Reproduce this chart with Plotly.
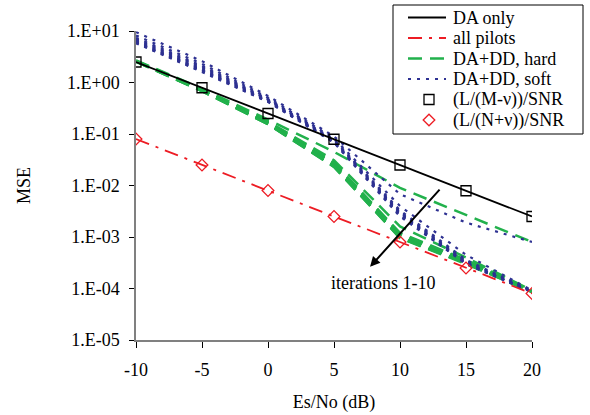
import plotly.graph_objects as go

snr_db = [-10, -5, 0, 5, 10, 15, 20]
x_ticktext = ["-10", "-5", "0", "5", "10", "15", "20"]

da_only = [2.5, 0.79, 0.25, 0.079, 0.025, 0.0079, 0.0025]
all_pilots = [0.08, 0.025, 0.008, 0.0025, 0.0008, 0.00025, 0.00008]
bound_m = [2.5, 0.79, 0.25, 0.079, 0.025, 0.0079, 0.0025]
bound_n = [0.08, 0.025, 0.008, 0.0025, 0.0008, 0.00025, 0.00008]

hard_iters = [
    [2.7, 0.76, 0.19, 0.045, 0.0090, 0.0027, 0.00080],
    [2.65, 0.73, 0.175, 0.031, 0.0016, 0.00040, 0.000092],
    [2.6, 0.72, 0.17, 0.028, 0.0012, 0.00036, 0.000090],
    [2.6, 0.71, 0.165, 0.027, 0.00115, 0.00035, 0.000089],
    [2.58, 0.70, 0.163, 0.026, 0.0011, 0.00034, 0.000088],
    [2.57, 0.70, 0.16, 0.025, 0.00105, 0.00033, 0.000087],
    [2.56, 0.69, 0.158, 0.024, 0.0010, 0.00032, 0.000086],
    [2.55, 0.69, 0.157, 0.024, 0.00098, 0.00031, 0.000086],
    [2.55, 0.68, 0.156, 0.023, 0.00096, 0.00031, 0.000085],
    [2.54, 0.68, 0.155, 0.023, 0.00095, 0.00030, 0.000085],
]

soft_iters = [
    [9.5, 2.6, 0.55, 0.090, 0.0068, 0.0019, 0.00080],
    [8.2, 2.3, 0.51, 0.082, 0.0040, 0.00045, 0.000092],
    [7.4, 2.1, 0.48, 0.078, 0.0033, 0.00036, 0.000090],
    [7.0, 2.0, 0.47, 0.076, 0.0031, 0.00034, 0.000089],
    [6.7, 1.9, 0.46, 0.074, 0.0030, 0.00033, 0.000088],
    [6.4, 1.8, 0.45, 0.072, 0.0029, 0.00032, 0.000087],
    [6.2, 1.75, 0.44, 0.071, 0.0028, 0.00031, 0.000086],
    [6.0, 1.7, 0.43, 0.070, 0.0027, 0.00031, 0.000086],
    [5.9, 1.65, 0.425, 0.069, 0.0026, 0.00030, 0.000085],
    [5.8, 1.6, 0.42, 0.068, 0.0025, 0.00030, 0.000085],
]

legend_labels = ["DA only", "all pilots", "DA+DD, hard", "DA+DD, soft",
                 "(L/(M-\u03bd))/SNR", "(L/(N+\u03bd))/SNR"]

y_tickvals = [1e-5, 1e-4, 1e-3, 1e-2, 1e-1, 1, 10]
y_ticktext = ["1.E-05", "1.E-04", "1.E-03", "1.E-02", "1.E-01", "1.E+00", "1.E+01"]

FONT = "Liberation Serif"
GREEN = "#22b14c"
BLUE = "#2e3192"
RED = "#ed1c24"

W, H = 590, 415
ML, MR, MT, MB = 136, 58, 31, 75
PW, PH = W - ML - MR, H - MT - MB


def px(xp):
    return (xp - ML) / PW


def py(yp):
    return (H - MB - yp) / PH


hard_style = dict(color=GREEN, width=2.5, dash="14px,8px")
soft_style = dict(color=BLUE, width=2.2, dash="3px,6px")
pilot_style = dict(color=RED, width=1.8, dash="14px,7px,3px,7px")
da_style = dict(color="black", width=1.8)

fig = go.Figure()

for ys in hard_iters:
    fig.add_trace(go.Scatter(x=snr_db, y=ys, mode="lines", name=legend_labels[2],
                             line=hard_style, showlegend=False))

for ys in soft_iters:
    fig.add_trace(go.Scatter(x=snr_db, y=ys, mode="lines", name=legend_labels[3],
                             line=soft_style, showlegend=False))

fig.add_trace(go.Scatter(x=snr_db, y=all_pilots, mode="lines", name=legend_labels[1],
                         line=pilot_style, showlegend=False))
fig.add_trace(go.Scatter(x=snr_db, y=da_only, mode="lines", name=legend_labels[0],
                         line=da_style, showlegend=False))
fig.add_trace(go.Scatter(
    x=snr_db, y=bound_m, mode="markers", name=legend_labels[4], showlegend=False,
    marker=dict(symbol="square-open", size=10, color="black", line=dict(width=1.3))))
fig.add_trace(go.Scatter(
    x=snr_db, y=bound_n, mode="markers", name=legend_labels[5], showlegend=False,
    marker=dict(symbol="diamond-open", size=9, color=RED, line=dict(width=1.3))))

# ---- hand-drawn legend box (paper coordinates) ----
fig.add_shape(type="rect", xref="paper", yref="paper",
              x0=px(393), x1=px(583), y0=py(134), y1=py(5),
              line=dict(color="black", width=1), fillcolor="white", layer="above")
row_y = [17.5, 38, 58.5, 79, 99.5, 120]
line_styles = [da_style, pilot_style, hard_style, soft_style]
for k, st in enumerate(line_styles):
    fig.add_shape(type="line", xref="paper", yref="paper",
                  x0=px(408), x1=px(446), y0=py(row_y[k]), y1=py(row_y[k]),
                  line=st, layer="above")
# square symbol
fig.add_shape(type="rect", xref="paper", yref="paper",
              x0=px(424), x1=px(434), y0=py(row_y[4] + 5), y1=py(row_y[4] - 5),
              line=dict(color="black", width=1.3), layer="above")
# diamond symbol
cx, cy, r = 429, row_y[5], 5.8
fig.add_shape(type="path", xref="paper", yref="paper",
              path=(f"M {px(cx - r)} {py(cy)} L {px(cx)} {py(cy - r)} "
                    f"L {px(cx + r)} {py(cy)} L {px(cx)} {py(cy + r)} Z"),
              line=dict(color=RED, width=1.3), layer="above")
for k, lab in enumerate(legend_labels):
    fig.add_annotation(x=px(451), y=py(row_y[k]), xref="paper", yref="paper",
                       text=lab, showarrow=False, xanchor="left", yanchor="middle",
                       font=dict(family=FONT, size=18, color="black"))

fig.add_annotation(
    x=7.73, y=-3.58, ax=13.1, ay=-2.05, xref="x", yref="y", axref="x", ayref="y",
    showarrow=True, arrowhead=2, arrowsize=1, arrowwidth=2, arrowcolor="black", text="")
fig.add_annotation(
    x=8.7, y=-3.89, xref="x", yref="y", text="iterations 1-10", showarrow=False,
    font=dict(family=FONT, size=18, color="black"))

fig.update_layout(
    width=W, height=H,
    margin=dict(l=ML, r=MR, t=MT, b=MB, autoexpand=False),
    paper_bgcolor="white", plot_bgcolor="white",
    font=dict(family=FONT, size=18, color="black"),
    showlegend=False,
)

fig.update_xaxes(
    range=[-10, 20], tickvals=snr_db, ticktext=x_ticktext,
    showgrid=False, zeroline=False,
    showline=True, linecolor="#808080", linewidth=1.5,
    ticks="outside", ticklen=6, tickcolor="black", ticklabelstandoff=7,
    title=dict(text="Es/No (dB)", standoff=16, font=dict(family=FONT, size=18)),
)
fig.update_yaxes(
    type="log", range=[-5, 1], tickvals=y_tickvals, ticktext=y_ticktext,
    showgrid=False, zeroline=False,
    showline=True, linecolor="#808080", linewidth=1.5,
    ticks="outside", ticklen=5, tickcolor="black", ticklabelstandoff=6,
    title=dict(text="MSE", standoff=32, font=dict(family=FONT, size=18)),
)

fig.write_html("out.html", config={"displayModeBar": False},
               post_script="document.body.style.margin='0px';")
